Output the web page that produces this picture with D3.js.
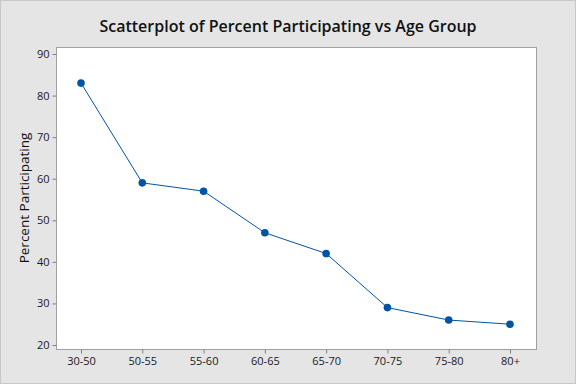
<!DOCTYPE html>
<html>
<head>
<meta charset="utf-8">
<script src="https://cdn.jsdelivr.net/npm/d3@7"></script>
<style>
  body { margin: 0; background: #e5e5e5; }
  svg { display: block; font-family: "Open Sans", "Noto Sans", sans-serif; }
</style>
</head>
<body>
<svg id="chart" width="576" height="384"></svg>
<script>
  // data
  var ageGroups = ["30-50", "50-55", "55-60", "60-65", "65-70", "70-75", "75-80", "80+"];
  var percentValues = [83, 59, 57, 47, 42, 29, 26, 25];
  var yTicks = [20, 30, 40, 50, 60, 70, 80, 90];

  var svg = d3.select("#chart");

  // frame and background
  svg.append("rect")
     .attr("x", 0.5).attr("y", 0.5)
     .attr("width", 575).attr("height", 383)
     .attr("fill", "#e5e5e5")
     .attr("stroke", "#c8c8c8");

  var plot = { left: 56.5, top: 47.5, right: 536.5, bottom: 349.5 };

  svg.append("rect")
     .attr("x", plot.left).attr("y", plot.top)
     .attr("width", plot.right - plot.left)
     .attr("height", plot.bottom - plot.top)
     .attr("fill", "#ffffff")
     .attr("stroke", "#a0a0a0");

  var x = d3.scalePoint()
            .domain(ageGroups)
            .range([81, 510]);

  var y = d3.scaleLinear()
            .domain([20, 90])
            .range([345, 54]);

  var xAxis = svg.append("g")
                 .attr("transform", "translate(0," + plot.bottom + ")")
                 .call(d3.axisBottom(x).tickSize(4).tickPadding(4));

  var yAxis = svg.append("g")
                 .attr("transform", "translate(" + plot.left + ",0)")
                 .call(d3.axisLeft(y).tickValues(yTicks).tickSize(4).tickPadding(3));

  [xAxis, yAxis].forEach(function (ax) {
    ax.attr("font-family", null);
    ax.select(".domain").remove();
    ax.selectAll(".tick line").attr("stroke", "#808080");
    ax.selectAll(".tick text")
      .attr("fill", "#1a1a1a")
      .style("font-size", "11px");
  });

  // title
  svg.append("text")
     .attr("x", 288).attr("y", 32)
     .attr("text-anchor", "middle")
     .attr("fill", "#111")
     .style("font-size", "16px")
     .style("font-weight", "600")
     .text("Scatterplot of Percent Participating vs Age Group");

  // y label
  svg.append("text")
     .attr("transform", "translate(29,198) rotate(-90)")
     .attr("text-anchor", "middle")
     .attr("fill", "#111")
     .style("font-size", "13.5px")
     .style("font-weight", "500")
     .text("Percent Participating");

  var points = ageGroups.map(function (g, i) {
    return { group: g, value: percentValues[i] };
  });

  var line = d3.line()
               .x(function (d) { return x(d.group); })
               .y(function (d) { return y(d.value); });

  svg.append("path")
     .datum(points)
     .attr("d", line)
     .attr("fill", "none")
     .attr("stroke", "#0054a6")
     .attr("stroke-width", 1);

  svg.selectAll("circle.pt")
     .data(points)
     .enter().append("circle")
     .attr("class", "pt")
     .attr("cx", function (d) { return x(d.group); })
     .attr("cy", function (d) { return y(d.value); })
     .attr("r", 3.8)
     .attr("fill", "#0054a6");
</script>
</body>
</html>
